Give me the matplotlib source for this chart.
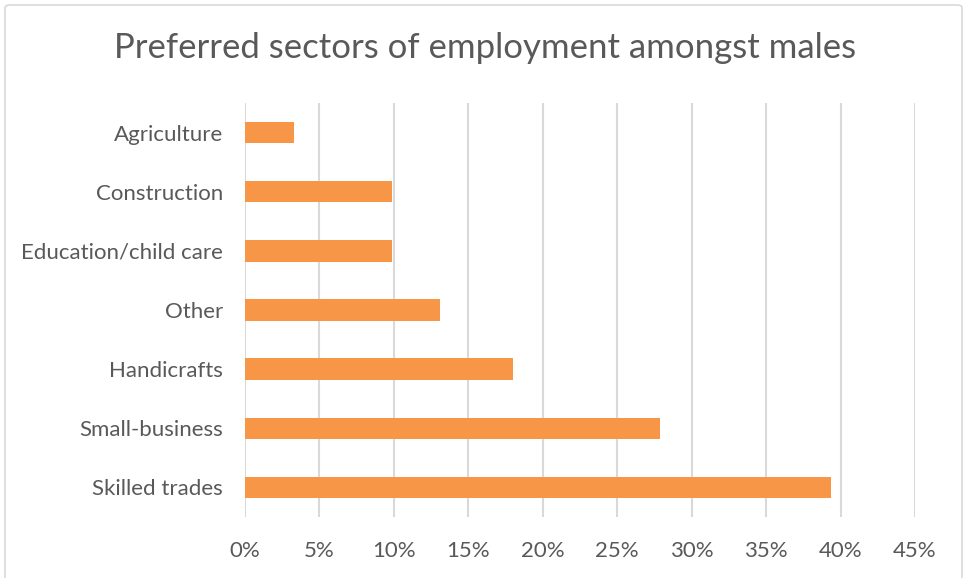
import matplotlib.pyplot as plt
from matplotlib.patches import FancyBboxPatch
from matplotlib.ticker import FuncFormatter

plt.rcParams['font.family'] = ['Lato', 'DejaVu Sans']

sectors = ["Agriculture", "Construction", "Education/child care", "Other",
           "Handicrafts", "Small-business", "Skilled trades"]
shares = [3.28, 9.84, 9.84, 13.11, 18.03, 27.87, 39.34]
x_ticks = [0, 5, 10, 15, 20, 25, 30, 35, 40, 45]

BAR_ORANGE = "#F79646"
TEXT_GREY = "#595959"
GRID_GREY = "#D9D9D9"

W, H = 964, 578
fig = plt.figure(figsize=(W / 100, H / 100), dpi=100)

# chart border (bottom edge runs off the picture, like the reference)
fig.patches.append(FancyBboxPatch((5 / W, -10 / H), 957 / W, (H - 5 + 10) / H,
                                  boxstyle="round,pad=0,rounding_size=0.005",
                                  transform=fig.transFigure, fill=False,
                                  edgecolor=GRID_GREY, linewidth=1.2))

ax = fig.add_axes([245 / W, 1 - 517 / H, (915 - 245) / W, (517 - 103) / H])
ypos = list(range(len(sectors)))[::-1]
ax.barh(ypos, shares, height=0.36, color=BAR_ORANGE, zorder=3)

ax.set_xlim(0, 45)
ax.set_ylim(-0.5, len(sectors) - 0.5)
ax.set_xticks(x_ticks)
ax.xaxis.set_major_formatter(FuncFormatter(lambda v, p: f"{v:.0f}%"))
ax.set_yticks(ypos)
ax.set_yticklabels(sectors)
ax.grid(axis="x", color=GRID_GREY, linewidth=1.5, zorder=0)
for s in ax.spines.values():
    s.set_visible(False)
ax.tick_params(length=0, labelsize=16, colors=TEXT_GREY)
ax.tick_params(axis="x", pad=17)
ax.tick_params(axis="y", pad=16)

fig.text(485 / W, 1 - 48 / H, "Preferred sectors of employment amongst males",
         ha="center", va="center", fontsize=25, color=TEXT_GREY)

fig.savefig("out.png", dpi=100)
